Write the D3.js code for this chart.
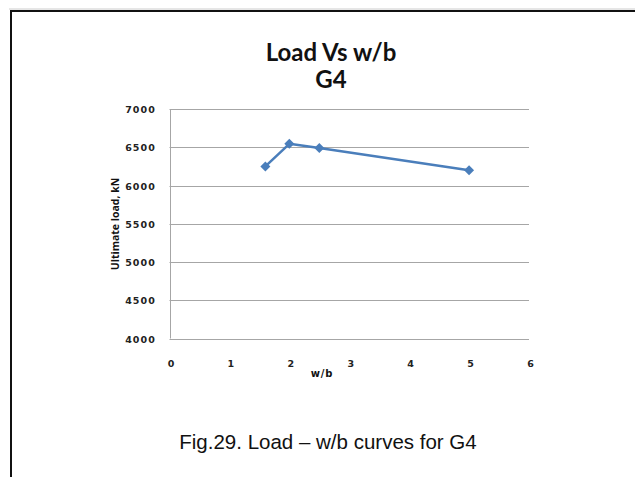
<!DOCTYPE html>
<html>
<head>
<meta charset="utf-8">
<script src="https://cdn.jsdelivr.net/npm/d3@7"></script>
<style>
  body { margin: 0; background: #fff; }
  svg { display: block; }
</style>
</head>
<body>
<div id="chart"></div>
<script>
const wbValues = [1.6, 2, 2.5, 5];
const loadValues = [6250, 6545, 6490, 6200];
const xTicks = [0, 1, 2, 3, 4, 5, 6];
const yTicks = [4000, 4500, 5000, 5500, 6000, 6500, 7000];

const W = 635, H = 477;
const svg = d3.select('#chart').append('svg').attr('width', W).attr('height', H);

// outer frame
svg.append('line').attr('x1', 9).attr('x2', W).attr('y1', 9).attr('y2', 9)
  .attr('stroke', '#ccc').attr('stroke-width', 1);
svg.append('path').attr('d', `M11,${H + 5}V11H${W + 5}`)
  .attr('fill', 'none').attr('stroke', '#111').attr('stroke-width', 2);

const x = d3.scaleLinear().domain([0, 6]).range([169.5, 529]);
const y = d3.scaleLinear().domain([4000, 7000]).range([338.5, 109]);

// gridlines
svg.append('g').selectAll('line').data(yTicks.filter(d => d > 4000)).join('line')
  .attr('x1', x(0)).attr('x2', x(6))
  .attr('y1', d => Math.round(y(d)) + 0.5).attr('y2', d => Math.round(y(d)) + 0.5)
  .attr('stroke', '#a6a6a6').attr('stroke-width', 1);

// axes lines
svg.append('line').attr('x1', x(0)).attr('x2', x(6))
  .attr('y1', Math.round(y(4000)) + 0.5).attr('y2', Math.round(y(4000)) + 0.5)
  .attr('stroke', '#a6a6a6');
svg.append('line').attr('x1', Math.round(x(0)) + 0.5).attr('x2', Math.round(x(0)) + 0.5)
  .attr('y1', y(7000)).attr('y2', y(4000))
  .attr('stroke', '#a6a6a6');

const tickFont = 'Verdana, "DejaVu Sans", sans-serif';

// y tick labels
svg.append('g').selectAll('text').data(yTicks).join('text')
  .attr('x', 156).attr('y', d => y(d) + 4)
  .attr('text-anchor', 'end')
  .attr('font-family', tickFont).attr('font-size', '9.5px').attr('font-weight', 'bold')
  .attr('letter-spacing', '1.1px')
  .attr('fill', '#222')
  .text(d => d);

// x tick labels
svg.append('g').selectAll('text').data(xTicks).join('text')
  .attr('x', d => x(d) + 1.5).attr('y', 366.5)
  .attr('text-anchor', 'middle')
  .attr('font-family', tickFont).attr('font-size', '9.5px').attr('font-weight', 'bold')
  .attr('fill', '#222')
  .text(d => d);

// axis titles
svg.append('text').attr('x', 322).attr('y', 377)
  .attr('text-anchor', 'middle')
  .attr('font-family', tickFont).attr('font-size', '10px').attr('font-weight', 'bold')
  .attr('letter-spacing', '0.8px')
  .attr('fill', '#111').text('w/b');

svg.append('text')
  .attr('transform', 'translate(119,224) rotate(-90)')
  .attr('text-anchor', 'middle')
  .attr('font-family', '"Open Sans", sans-serif').attr('font-size', '10.5px').attr('font-weight', 'bold')
  .attr('fill', '#111').text('Ultimate load, kN');

// chart title
const title = svg.append('text').attr('text-anchor', 'middle')
  .attr('font-family', 'Lato, "Open Sans", sans-serif').attr('font-size', '24px').attr('font-weight', 'bold')
  .attr('fill', '#111');
title.append('tspan').attr('x', 331).attr('y', 61).text('Load Vs w/b');
title.append('tspan').attr('x', 331).attr('y', 88).text('G4');

// series
const pts = wbValues.map((v, i) => [v, loadValues[i]]);
svg.append('path').datum(pts)
  .attr('d', d3.line().x(d => x(d[0])).y(d => y(d[1])))
  .attr('fill', 'none').attr('stroke', '#4a7ebb').attr('stroke-width', 2.5)
  .attr('stroke-linejoin', 'round');

svg.append('g').selectAll('path').data(pts).join('path')
  .attr('transform', d => `translate(${x(d[0])},${y(d[1])})`)
  .attr('d', 'M0,-5L5,0L0,5L-5,0Z')
  .attr('fill', '#4a7ebb');

// caption
svg.append('text').attr('x', 328).attr('y', 449)
  .attr('text-anchor', 'middle')
  .attr('font-family', 'Arial, "Liberation Sans", sans-serif').attr('font-size', '20.5px')
  .attr('fill', '#111').text('Fig.29. Load – w/b curves for G4');
</script>
</body>
</html>
